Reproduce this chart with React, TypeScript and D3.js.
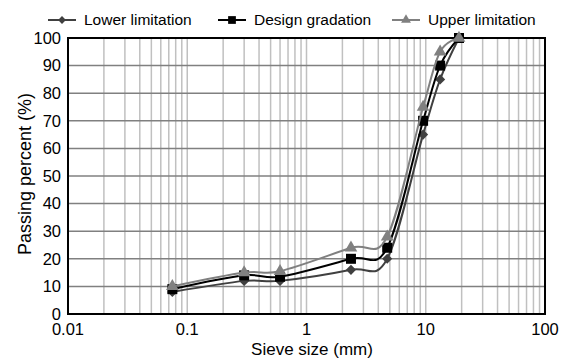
import { useEffect, useRef } from "react";
import * as d3 from "d3";

const sieves = [0.075, 0.3, 0.6, 2.36, 4.75, 9.5, 13.2, 19];
const lowerLimit = [8, 12, 12, 16, 20, 65, 85, 100];
const designGradation = [9, 14, 13.5, 20, 24, 70, 90, 100];
const upperLimit = [10, 15, 15.5, 24, 28, 75, 95, 100];
const yTicks = [0, 10, 20, 30, 40, 50, 60, 70, 80, 90, 100];
const xTicks = [0.01, 0.1, 1, 10, 100];

const seriesNames = ["Lower limitation", "Design gradation", "Upper limitation"];
const seriesColors = ["#404040", "#000000", "#808080"];
const seriesSymbols = [d3.symbolDiamond2, d3.symbolSquare, d3.symbolTriangle];
const seriesSizes = [65, 100, 70];

export default function App() {
  const ref = useRef<SVGSVGElement>(null);
  useEffect(() => {
    if (!ref.current) return;
    const svg = d3.select(ref.current);
    svg.selectAll("*").remove();
    const W = 563, H = 360;
    const left = 68, right = 545, top = 38, bottom = 314;
    const font = "Liberation Sans, Arial, sans-serif";

    const x = d3.scaleLog().domain([0.01, 100]).range([left, right]);
    const y = d3.scaleLinear().domain([0, 100]).range([bottom, top]);

    svg.append("rect").attr("width", W).attr("height", H).attr("fill", "#fff");

    // vertical grid at every log minor tick
    const vLines: number[] = [];
    for (let e = -2; e < 2; e++) for (let m = 1; m <= 9; m++) vLines.push(m * Math.pow(10, e));
    vLines.push(100);
    svg.append("g").selectAll("line").data(vLines).join("line")
      .attr("x1", (d) => x(d)).attr("x2", (d) => x(d))
      .attr("y1", top).attr("y2", bottom)
      .attr("stroke", "#c0c0c0").attr("stroke-width", 1.5);

    svg.append("g").selectAll("line").data(yTicks.slice(1, -1)).join("line")
      .attr("x1", left).attr("x2", right)
      .attr("y1", (d) => y(d)).attr("y2", (d) => y(d))
      .attr("stroke", "#808080").attr("stroke-width", 1.5);

    svg.append("rect")
      .attr("x", left).attr("y", top).attr("width", right - left).attr("height", bottom - top)
      .attr("fill", "none").attr("stroke", "#000").attr("stroke-width", 2);

    // axes labels
    svg.append("g").selectAll("text").data(yTicks).join("text")
      .attr("x", left - 7).attr("y", (d) => y(d)).attr("dy", "0.35em")
      .attr("text-anchor", "end").attr("font-family", font).attr("font-size", 16.5)
      .text((d) => d);
    svg.append("g").selectAll("text").data(xTicks).join("text")
      .attr("x", (d) => x(d)).attr("y", 335)
      .attr("text-anchor", "middle").attr("font-family", font).attr("font-size", 16.5)
      .text((d) => String(d));
    svg.append("text")
      .attr("x", 312).attr("y", 355)
      .attr("text-anchor", "middle").attr("font-family", font).attr("font-size", 17)
      .text("Sieve size (mm)");
    svg.append("text")
      .attr("transform", `translate(31,174) rotate(-90)`)
      .attr("text-anchor", "middle").attr("font-family", font).attr("font-size", 18)
      .text("Passing percent (%)");

    const line = d3.line<[number, number]>()
      .x((d) => x(d[0])).y((d) => y(d[1]))
      .curve(d3.curveCardinal.tension(0));

    [lowerLimit, designGradation, upperLimit].forEach((vals, i) => {
      const pts = sieves.map((s, j) => [s, vals[j]] as [number, number]);
      const g = svg.append("g");
      g.append("path").datum(pts).attr("d", line)
        .attr("fill", "none").attr("stroke", seriesColors[i]).attr("stroke-width", 2);
      g.selectAll("path.m").data(pts).join("path").attr("class", "m")
        .attr("transform", (d) => `translate(${x(d[0])},${y(d[1])})`)
        .attr("d", d3.symbol(seriesSymbols[i], seriesSizes[i])())
        .attr("fill", seriesColors[i]);
    });

    // legend
    const legendX = [48, 218, 392];
    const lg = svg.append("g");
    seriesNames.forEach((name, i) => {
      const lx = legendX[i];
      lg.append("line").attr("x1", lx).attr("x2", lx + 28).attr("y1", 20).attr("y2", 20)
        .attr("stroke", seriesColors[i]).attr("stroke-width", 2);
      lg.append("path").attr("transform", `translate(${lx + 14},20)`)
        .attr("d", d3.symbol(seriesSymbols[i], seriesSizes[i] * 0.6)())
        .attr("fill", seriesColors[i]);
      lg.append("text").attr("x", lx + 36).attr("y", 20).attr("dy", "0.35em")
        .attr("font-family", font).attr("font-size", 15.5).text(name);
    });
  }, []);
  return <svg ref={ref} width={563} height={360} style={{ position: "absolute", left: 0, top: 0 }} />;
}
